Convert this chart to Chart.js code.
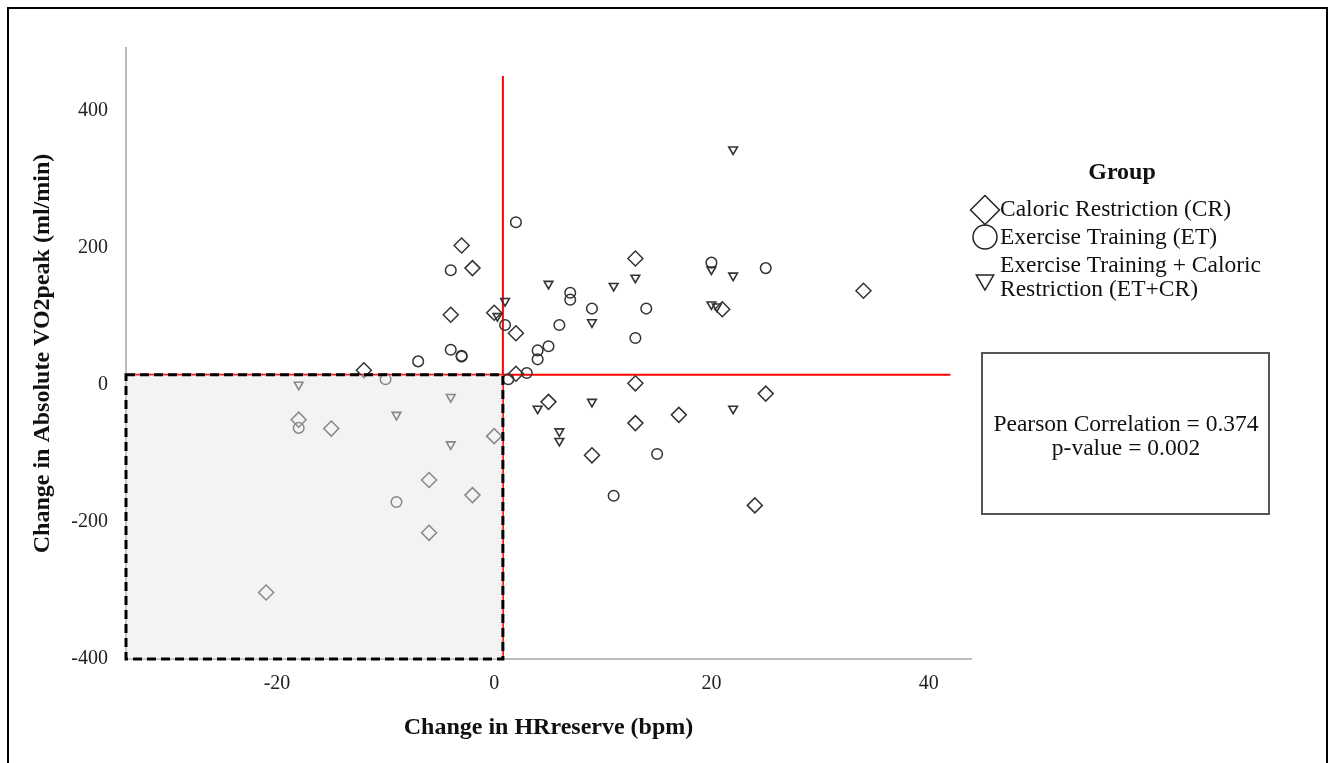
<!DOCTYPE html>
<html><head><meta charset="utf-8">
<script src="https://cdn.jsdelivr.net/npm/chart.js@4/dist/chart.umd.min.js"></script>
<style>
html,body{margin:0;padding:0;background:#fff;overflow:hidden}
#wrap{position:relative;width:1331px;height:763px}
#frame{position:absolute;left:7px;top:7px;width:1317px;height:800px;border:2px solid #000;pointer-events:none}
canvas{display:block}
</style></head><body>
<div id="wrap"><canvas id="c" width="1331" height="763"></canvas><div id="frame"></div></div>
<script>
// ---- data ----
const groupNames = ['Caloric Restriction (CR)', 'Exercise Training (ET)', 'Exercise Training + Caloric Restriction (ET+CR)'];
const legendLines = [['Caloric Restriction (CR)'], ['Exercise Training (ET)'], ['Exercise Training + Caloric', 'Restriction (ET+CR)']];

const crHR  = [-3, -2, -4, 0, 2, -12, 2, 13, 34, 21, 13, 25, 5, 13, 17, 9, 24, -18, -15, 0, -6, -2, -6, -21];
const crVO2 = [203, 170, 102, 105, 75, 21, 16, 184, 137, 110, 2, -13, -25, -56, -44, -103, -176, -51, -64, -75, -139, -161, -216, -303];

const etHR  = [-4, 2, 1, -4, -3, -3, -7, -10, 1.3, 3, 4, 4, 5, 6, 7, 7, 9, 14, 13, 20, 25, 15, 11, -18, -9];
const etVO2 = [167, 237, 87, 51, 42, 41, 34, 8, 8, 17, 50, 37, 56, 87, 134, 124, 111, 111, 68, 178, 170, -101, -162, -63, -171];

const etcrHR  = [22, 20, 22, 13, 5, 11, 1, 20, 20.5, 9, 0.3, -18, -4, -9, -4, 4, 9, 22, 6, 6];
const etcrVO2 = [343, 168, 159, 156, 147, 144, 122, 117, 114, 91, 100, 0, -18, -44, -87, -35, -25, -35, -68, -82];

const meanHR = 0.8;          // vertical reference line
const meanVO2 = 14.5;        // horizontal reference line
const vLineVO2 = [-400, 450];
const hLineHR = [-33.9, 42];
const boxHR = [-33.9, 0.8];
const boxVO2 = [-400, 14.5];

const xTickValues = [-20, 0, 20, 40];
const yTickValues = [-400, -200, 0, 200, 400];
const xRange = [-33.9, 43.9];
const yRange = [-400, 491];

const xTitle = 'Change in HRreserve (bpm)';
const yTitle = 'Change in Absolute VO2peak (ml/min)';
const statsLines = ['Pearson Correlation = 0.374', 'p-value = 0.002'];
const legendTitle = 'Group';

// ---- helpers ----
const pts = (xs, ys) => xs.map((v, i) => ({x: v, y: ys[i]}));
const SERIF = '"Liberation Serif", "Times New Roman", serif';
const MARK = '#333333';

const overlayPlugin = {
  id: 'overlay',
  afterDatasetsDraw(chart) {
    const {ctx, scales: {x, y}} = chart;
    const x0 = x.getPixelForValue(boxHR[0]), x1 = x.getPixelForValue(boxHR[1]);
    const y0 = y.getPixelForValue(boxVO2[1]), y1 = y.getPixelForValue(boxVO2[0]);
    ctx.save();
    ctx.fillStyle = 'rgba(230,230,230,0.48)';
    ctx.fillRect(x0, y0, x1 - x0, y1 - y0);
    ctx.setLineDash([9, 5]);
    ctx.lineWidth = 3;
    ctx.strokeStyle = '#000';
    ctx.strokeRect(x0, y0, x1 - x0, y1 - y0);
    ctx.restore();
  },
  afterDraw(chart) {
    const ctx = chart.ctx;
    ctx.save();
    // legend
    ctx.fillStyle = '#111';
    ctx.textBaseline = 'middle';
    ctx.textAlign = 'center';
    ctx.font = 'bold 24px ' + SERIF;
    ctx.fillText(legendTitle, 1122, 173);
    ctx.textAlign = 'left';
    ctx.font = '23.5px ' + SERIF;
    const styles = [
      {pointStyle: 'rectRot', radius: 14.5, rotation: 0, borderWidth: 1.5, cy: 210},
      {pointStyle: 'circle', radius: 12, rotation: 0, borderWidth: 1.5, cy: 237},
      {pointStyle: 'triangle', radius: 10, rotation: 180, borderWidth: 1.5, cy: 280}
    ];
    const textY = [[210], [238], [266, 290]];
    styles.forEach((s, i) => {
      ctx.strokeStyle = '#222';
      ctx.fillStyle = 'rgba(0,0,0,0)';
      ctx.lineWidth = s.borderWidth;
      Chart.helpers.drawPoint(ctx, s, 985, s.cy);
      ctx.fillStyle = '#111';
      legendLines[i].forEach((t, j) => ctx.fillText(t, 1000, textY[i][j]));
    });
    // stats box
    ctx.strokeStyle = '#555';
    ctx.lineWidth = 2;
    ctx.strokeRect(982, 353, 287, 161);
    ctx.textAlign = 'center';
    ctx.fillStyle = '#111';
    ctx.font = '23.5px ' + SERIF;
    ctx.fillText(statsLines[0], 1126, 425);
    ctx.fillText(statsLines[1], 1126, 449);
    ctx.restore();
  }
};

const markerBase = {
  backgroundColor: 'rgba(0,0,0,0)',
  borderColor: MARK,
  showLine: false
};

new Chart(document.getElementById('c'), {
  type: 'scatter',
  data: {
    datasets: [
      Object.assign({label: groupNames[0], data: pts(crHR, crVO2), pointStyle: 'rectRot', pointRadius: 7.5, pointBorderWidth: 1.5}, markerBase),
      Object.assign({label: groupNames[1], data: pts(etHR, etVO2), pointStyle: 'circle', pointRadius: 5.3, pointBorderWidth: 1.5}, markerBase),
      Object.assign({label: groupNames[2], data: pts(etcrHR, etcrVO2), pointStyle: 'triangle', pointRotation: 180, pointRadius: 5, pointBorderWidth: 1.6}, markerBase),
      {label: 'meanHR', type: 'line', data: vLineVO2.map(v => ({x: meanHR, y: v})), borderColor: '#ff0000', borderWidth: 2, pointRadius: 0, showLine: true, fill: false},
      {label: 'meanVO2', type: 'line', data: hLineHR.map(v => ({x: v, y: meanVO2})), borderColor: '#ff0000', borderWidth: 2, pointRadius: 0, showLine: true, fill: false}
    ]
  },
  options: {
    responsive: false,
    animation: false,
    layout: {padding: {left: 0, top: 48, right: 360, bottom: 0}},
    plugins: {legend: {display: false}, tooltip: {enabled: false}},
    scales: {
      x: {
        type: 'linear', min: xRange[0], max: xRange[1],
        afterFit: s => { s.height = 104; },
        afterBuildTicks: s => { s.ticks = xTickValues.map(v => ({value: v})); },
        grid: {display: false, drawTicks: false},
        border: {display: true, color: '#bdbdbd', width: 2},
        ticks: {padding: 13, color: '#222', font: {family: SERIF, size: 20}},
        title: {display: true, text: xTitle, color: '#111', font: {family: SERIF, size: 24, weight: 'bold'}, padding: {top: 0, bottom: 21}}
      },
      y: {
        type: 'linear', min: yRange[0], max: yRange[1],
        afterFit: s => { s.width = 126; },
        afterBuildTicks: s => { s.ticks = yTickValues.map(v => ({value: v})); },
        grid: {display: false, drawTicks: false},
        border: {display: true, color: '#bdbdbd', width: 2},
        ticks: {padding: 18, color: '#222', font: {family: SERIF, size: 20}},
        title: {display: true, text: yTitle, color: '#111', font: {family: SERIF, size: 24, weight: 'bold'}, padding: {top: 28, bottom: 0}}
      }
    }
  },
  plugins: [overlayPlugin]
});
</script>
</body></html>
